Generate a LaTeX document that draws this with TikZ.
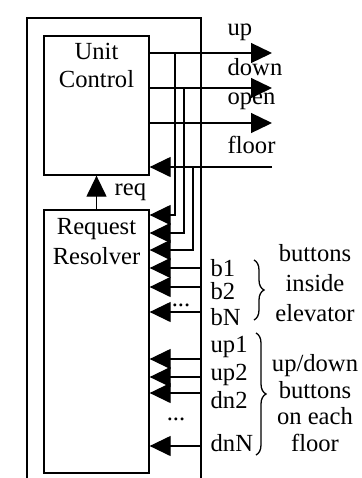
\documentclass[tikz,border=0pt]{standalone}
\usepackage{fontspec}
\setmainfont{Liberation Serif}
\usepackage{tikz}
\usetikzlibrary{arrows.meta, positioning, decorations.pathreplacing, calc}

\begin{document}
\begin{tikzpicture}[x=0.5pt, y=-0.5pt,
		>={Triangle[length=10.5pt, width=10pt]},
		line width=0.65pt,
		bloc/.style={draw, line width=0.65pt, minimum width=52.5pt, inner sep=0pt},
		txt/.style={font=\fontsize{12.3}{14}\selectfont, inner sep=0pt},
		sig/.style={->, line width=0.65pt},
		accol/.style={decorate, decoration={brace, amplitude=5pt}, line width=0.65pt}
		]
		\useasboundingbox (0,0) rectangle (361,478);
		
		% Cadre
		\draw (27,478) -- (27,18) -- (201,18) -- (201,478);
		
		% Blocs
		\node[bloc, minimum height=69.5pt] (uc) at (96.5,105.5) {};
		\node[txt, align=center, below=3.5pt of uc.north] (uct) {Unit\\Control};
		\node[bloc, minimum height=131.5pt] (rr) at (96.5,341.5) {};
		\node[txt, align=center, font=\fontsize{12.3}{15}\selectfont,
		      below=4pt of rr.north] (rrt) {Request\\Resolver};
		
		\draw[sig] (rr.north) -- (uc.south);
		\node[txt, right] (req) at (114,192) {req};
		
		% Sorties
		\foreach \n/\y/\ly in {up/53/32, down/88/67, open/123/101} {
			\coordinate (\n-out) at (272,\y);
			\draw[sig] (uc.east |- \n-out) -- (\n-out);
			\node[txt, right] (\n-lab) at (227,\ly) {\n};
		}
		\coordinate (floor-in) at (272,167);
		\draw[sig] (floor-in) -- (uc.east |- floor-in);
		\node[txt, right] (floor-lab) at (227,145) {floor};
		
		% Retours vers le resolver
		\coordinate (tap-up) at (175,53);
		\coordinate (tap-down) at (184,88);
		\coordinate (tap-floor) at (193,167);
		\draw[sig] (tap-up) |- (rr.east |- 0,215);
		\draw[sig] (tap-down) |- (rr.east |- 0,233);
		\draw[sig, line width=1.1pt] (tap-floor) |- (rr.east |- 0,250);
		
		% Boutons
		\foreach \n/\y/\ly in {b1/268/268, b2/287/291, bN/312/317,
			up1/359/347, up2/377/375, dn2/393/400, dnN/446/443} {
			\coordinate (\n-in) at (201,\y);
			\draw[sig] (\n-in) -- (rr.east |- \n-in);
			\node[txt, right] (\n-lab) at (210,\ly) {\n};
		}
		\node[txt] (dots1) at (181,305) {...};
		\node[txt] (dots2) at (176,419) {...};
		
		% Accolades
		\draw[accol] (254,260) -- (254,320);
		\draw[accol] (256,333) -- (256,455);
		\node[txt, align=center, font=\fontsize{12.3}{15}\selectfont] (grp1) at (315,283) {buttons\\inside\\elevator};
		\node[txt, align=center, font=\fontsize{12.3}{13.3}\selectfont] (grp2) at (315,403) {up/down\\buttons\\on each\\floor};
	\end{tikzpicture}
\end{document}
